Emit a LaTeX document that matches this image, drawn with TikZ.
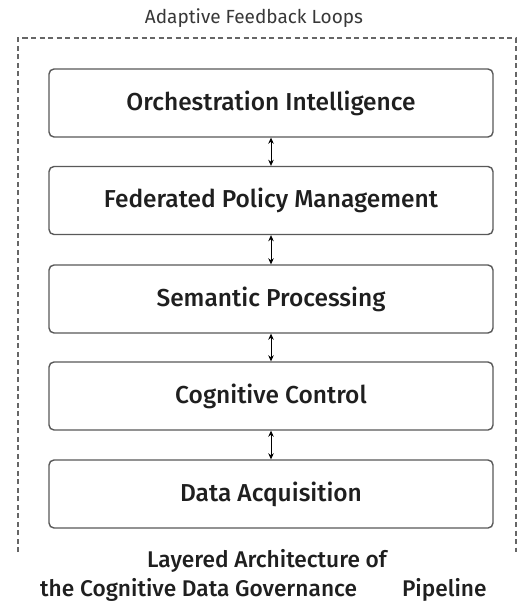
\documentclass[tikz,border=0pt]{standalone}
\usepackage{fontspec}
\setmainfont{Fira Sans}[BoldFont={Fira Sans Medium}]
\usetikzlibrary{arrows.meta}
\tikzset{
  layer/.style={draw=black!65, line width=1.4pt, rounded corners=5pt, minimum width=444pt, minimum height=68pt, inner sep=0pt, fill=white, text=black!88, font=\bfseries\fontsize{24.5}{28}\selectfont},
  link/.style={draw=black, line width=0.8pt, {Stealth[length=6pt,width=5.5pt]}-{Stealth[length=6pt,width=5.5pt]}},
  frame/.style={draw=black!60, line width=1.3pt, dash pattern=on 5pt off 3.5pt},
  caption/.style={inner sep=0pt, font=\bfseries\fontsize{22.7}{26}\selectfont, text=black!88},
  toplabel/.style={inner sep=0pt, font=\fontsize{19}{22}\selectfont, text=black!78}
}
\begin{document}
\begin{tikzpicture}[x=1pt,y=-1pt]
\useasboundingbox (0,0) rectangle (517,603);
\fill[white] (0,0) rectangle (517,603);
\coordinate (fbl) at (18,552);
\coordinate (ftl) at (18,38);
\coordinate (ftr) at (516,38);
\coordinate (fbr) at (516,552);
\draw[frame] (fbl) -- (ftl) -- (ftr) -- (fbr);
\node[toplabel] (title) at (254,18) {Adaptive Feedback Loops};
\node[layer] (l1) at (271,103) {Orchestration Intelligence};
\node[layer] (l2) at (271,200.5) {Federated Policy Management};
\node[layer] (l3) at (271,299) {Semantic Processing};
\node[layer] (l4) at (271,396) {Cognitive Control};
\node[layer] (l5) at (271,494) {Data Acquisition};
\draw[link] (l1.south) -- (l2.north);
\draw[link] (l2.south) -- (l3.north);
\draw[link] (l3.south) -- (l4.north);
\draw[link] (l4.south) -- (l5.north);
\node[caption] (cap1) at (267,561) {Layered Architecture of};
\node[caption, anchor=west] (cap2) at (40,590) {the Cognitive Data Governance\hspace{45pt}Pipeline};
\end{tikzpicture}
\end{document}
